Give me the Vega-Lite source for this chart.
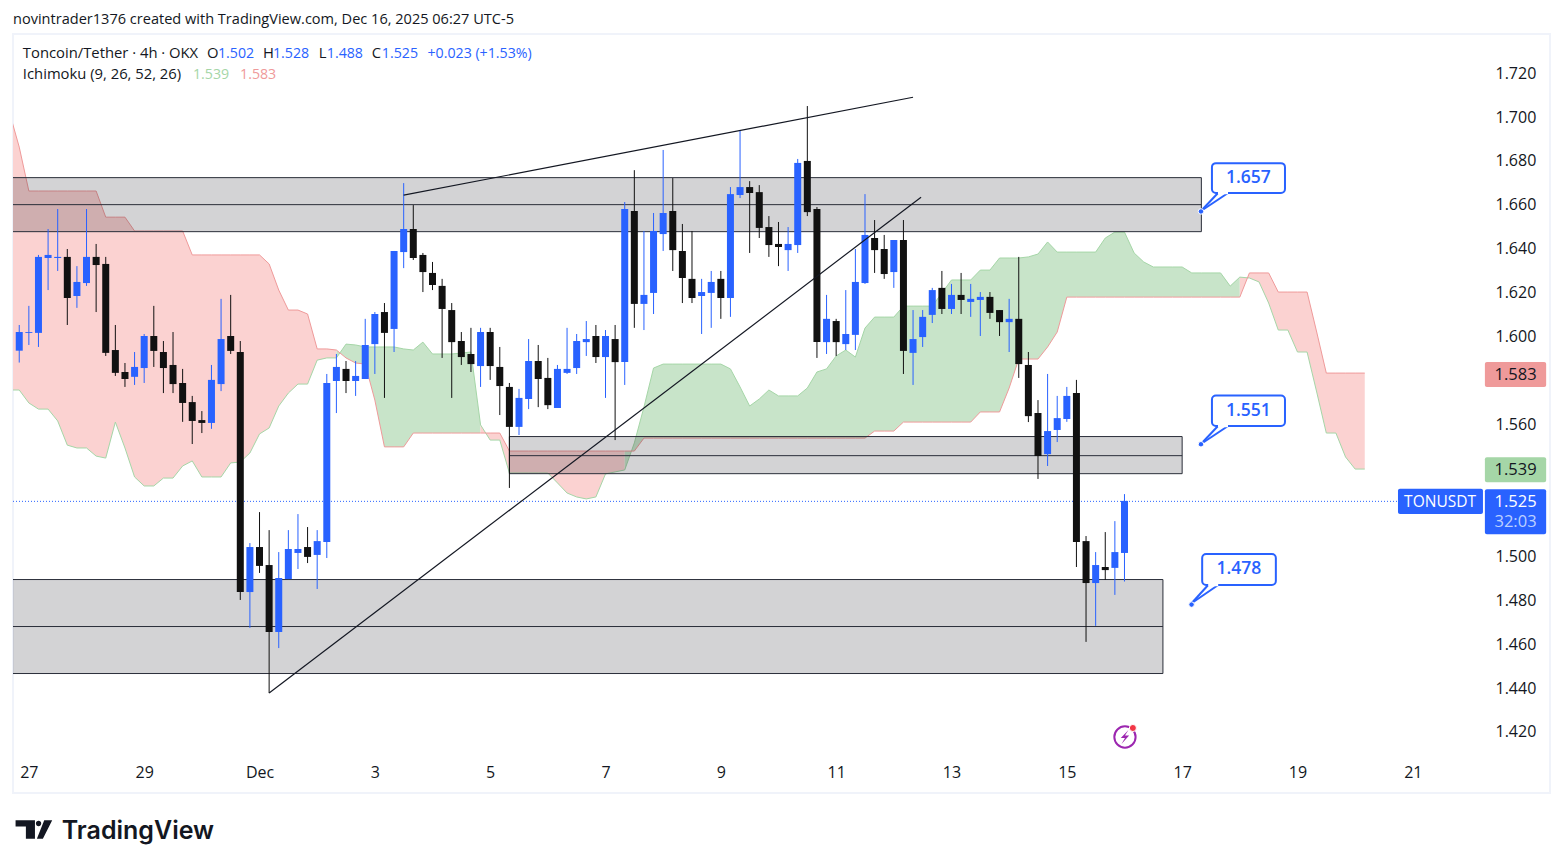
{
  "$schema": "https://vega.github.io/schema/vega-lite/v6.json",
  "width": 1537,
  "height": 759,
  "autosize": "none",
  "padding": {"left": 13, "top": 34, "right": 13, "bottom": 75},
  "background": "white",
  "title": {"text": "novintrader1376 created with TradingView.com, Dec 16, 2025 06:27 UTC-5", "anchor": "start", "frame": "group", "fontSize": 14.55, "fontWeight": "normal", "color": "#131722", "offset": 6},
  "config": {
    "font": "Open Sans",
    "view": {"stroke": "#f0f3fa", "strokeWidth": 2}
  },
  "datasets": {
    "candles": [
      {"t":"2025-11-26T20:00Z","o":1.5936,"h":1.6053,"l":1.5882,"c":1.6021},
      {"t":"2025-11-27T00:00Z","o":1.6017,"h":1.6140,"l":1.5962,"c":1.6021},
      {"t":"2025-11-27T04:00Z","o":1.6017,"h":1.6372,"l":1.5953,"c":1.6363},
      {"t":"2025-11-27T08:00Z","o":1.6358,"h":1.6490,"l":1.6212,"c":1.6372},
      {"t":"2025-11-27T12:00Z","o":1.6358,"h":1.6581,"l":1.6299,"c":1.6363},
      {"t":"2025-11-27T16:00Z","o":1.6363,"h":1.6399,"l":1.6053,"c":1.6176},
      {"t":"2025-11-27T20:00Z","o":1.6185,"h":1.6321,"l":1.6131,"c":1.6249},
      {"t":"2025-11-28T00:00Z","o":1.6244,"h":1.6581,"l":1.6231,"c":1.6363},
      {"t":"2025-11-28T04:00Z","o":1.6363,"h":1.6422,"l":1.6112,"c":1.6326},
      {"t":"2025-11-28T08:00Z","o":1.6331,"h":1.6363,"l":1.5912,"c":1.5926},
      {"t":"2025-11-28T12:00Z","o":1.5939,"h":1.6053,"l":1.5821,"c":1.5835},
      {"t":"2025-11-28T16:00Z","o":1.5839,"h":1.5880,"l":1.5771,"c":1.5807},
      {"t":"2025-11-28T20:00Z","o":1.5817,"h":1.5930,"l":1.5780,"c":1.5862},
      {"t":"2025-11-29T00:00Z","o":1.5857,"h":1.6012,"l":1.5789,"c":1.6003},
      {"t":"2025-11-29T04:00Z","o":1.6003,"h":1.6140,"l":1.5862,"c":1.5935},
      {"t":"2025-11-29T08:00Z","o":1.5930,"h":1.5980,"l":1.5743,"c":1.5857},
      {"t":"2025-11-29T12:00Z","o":1.5871,"h":1.6021,"l":1.5743,"c":1.5784},
      {"t":"2025-11-29T16:00Z","o":1.5789,"h":1.5853,"l":1.5612,"c":1.5698},
      {"t":"2025-11-29T20:00Z","o":1.5702,"h":1.5730,"l":1.5511,"c":1.5616},
      {"t":"2025-11-30T00:00Z","o":1.5620,"h":1.5661,"l":1.5561,"c":1.5607},
      {"t":"2025-11-30T04:00Z","o":1.5607,"h":1.5871,"l":1.5580,"c":1.5803},
      {"t":"2025-11-30T08:00Z","o":1.5784,"h":1.6172,"l":1.5752,"c":1.5989},
      {"t":"2025-11-30T12:00Z","o":1.6003,"h":1.6190,"l":1.5921,"c":1.5935},
      {"t":"2025-11-30T16:00Z","o":1.5930,"h":1.5980,"l":1.4801,"c":1.4837},
      {"t":"2025-11-30T20:00Z","o":1.4837,"h":1.5060,"l":1.4674,"c":1.5042},
      {"t":"2025-12-01T00:00Z","o":1.5042,"h":1.5201,"l":1.4924,"c":1.4956},
      {"t":"2025-12-01T04:00Z","o":1.4960,"h":1.5119,"l":1.4377,"c":1.4655},
      {"t":"2025-12-01T08:00Z","o":1.4655,"h":1.5019,"l":1.4582,"c":1.4901},
      {"t":"2025-12-01T12:00Z","o":1.4896,"h":1.5119,"l":1.4896,"c":1.5033},
      {"t":"2025-12-01T16:00Z","o":1.5015,"h":1.5192,"l":1.4942,"c":1.5033},
      {"t":"2025-12-01T20:00Z","o":1.5042,"h":1.5133,"l":1.4969,"c":1.4997},
      {"t":"2025-12-02T00:00Z","o":1.5006,"h":1.5119,"l":1.4851,"c":1.5069},
      {"t":"2025-12-02T04:00Z","o":1.5065,"h":1.5830,"l":1.4992,"c":1.5789},
      {"t":"2025-12-02T08:00Z","o":1.5798,"h":1.5921,"l":1.5652,"c":1.5862},
      {"t":"2025-12-02T12:00Z","o":1.5853,"h":1.5889,"l":1.5743,"c":1.5798},
      {"t":"2025-12-02T16:00Z","o":1.5798,"h":1.5889,"l":1.5730,"c":1.5821},
      {"t":"2025-12-02T20:00Z","o":1.5807,"h":1.6081,"l":1.5807,"c":1.5962},
      {"t":"2025-12-03T00:00Z","o":1.5966,"h":1.6112,"l":1.5830,"c":1.6103},
      {"t":"2025-12-03T04:00Z","o":1.6112,"h":1.6153,"l":1.5721,"c":1.6017},
      {"t":"2025-12-03T08:00Z","o":1.6035,"h":1.6390,"l":1.5930,"c":1.6390},
      {"t":"2025-12-03T12:00Z","o":1.6385,"h":1.6699,"l":1.6312,"c":1.6490},
      {"t":"2025-12-03T16:00Z","o":1.6490,"h":1.6599,"l":1.6349,"c":1.6358},
      {"t":"2025-12-03T20:00Z","o":1.6372,"h":1.6381,"l":1.6203,"c":1.6294},
      {"t":"2025-12-04T00:00Z","o":1.6290,"h":1.6340,"l":1.6212,"c":1.6235},
      {"t":"2025-12-04T04:00Z","o":1.6231,"h":1.6263,"l":1.5903,"c":1.6126},
      {"t":"2025-12-04T08:00Z","o":1.6121,"h":1.6153,"l":1.5721,"c":1.5975},
      {"t":"2025-12-04T12:00Z","o":1.5980,"h":1.6021,"l":1.5871,"c":1.5907},
      {"t":"2025-12-04T16:00Z","o":1.5921,"h":1.6040,"l":1.5839,"c":1.5875},
      {"t":"2025-12-04T20:00Z","o":1.5866,"h":1.6040,"l":1.5771,"c":1.6021},
      {"t":"2025-12-05T00:00Z","o":1.6021,"h":1.6040,"l":1.5803,"c":1.5866},
      {"t":"2025-12-05T04:00Z","o":1.5862,"h":1.5953,"l":1.5643,"c":1.5775},
      {"t":"2025-12-05T08:00Z","o":1.5771,"h":1.5789,"l":1.5311,"c":1.5589},
      {"t":"2025-12-05T12:00Z","o":1.5589,"h":1.5762,"l":1.5552,"c":1.5721},
      {"t":"2025-12-05T16:00Z","o":1.5716,"h":1.5989,"l":1.5670,"c":1.5889},
      {"t":"2025-12-05T20:00Z","o":1.5889,"h":1.5962,"l":1.5679,"c":1.5807},
      {"t":"2025-12-06T00:00Z","o":1.5812,"h":1.5903,"l":1.5670,"c":1.5688},
      {"t":"2025-12-06T04:00Z","o":1.5675,"h":1.5871,"l":1.5675,"c":1.5853},
      {"t":"2025-12-06T08:00Z","o":1.5835,"h":1.6040,"l":1.5830,"c":1.5853},
      {"t":"2025-12-06T12:00Z","o":1.5857,"h":1.6012,"l":1.5830,"c":1.5980},
      {"t":"2025-12-06T16:00Z","o":1.5975,"h":1.6071,"l":1.5912,"c":1.5989},
      {"t":"2025-12-06T20:00Z","o":1.6003,"h":1.6053,"l":1.5880,"c":1.5907},
      {"t":"2025-12-07T00:00Z","o":1.5907,"h":1.6030,"l":1.5721,"c":1.6003},
      {"t":"2025-12-07T04:00Z","o":1.5989,"h":1.6053,"l":1.5529,"c":1.5884},
      {"t":"2025-12-07T08:00Z","o":1.5884,"h":1.6613,"l":1.5780,"c":1.6581},
      {"t":"2025-12-07T12:00Z","o":1.6572,"h":1.6758,"l":1.6040,"c":1.6149},
      {"t":"2025-12-07T16:00Z","o":1.6149,"h":1.6481,"l":1.6030,"c":1.6190},
      {"t":"2025-12-07T20:00Z","o":1.6199,"h":1.6563,"l":1.6103,"c":1.6481},
      {"t":"2025-12-08T00:00Z","o":1.6467,"h":1.6850,"l":1.6390,"c":1.6563},
      {"t":"2025-12-08T04:00Z","o":1.6572,"h":1.6722,"l":1.6299,"c":1.6394},
      {"t":"2025-12-08T08:00Z","o":1.6390,"h":1.6513,"l":1.6153,"c":1.6267},
      {"t":"2025-12-08T12:00Z","o":1.6263,"h":1.6481,"l":1.6153,"c":1.6176},
      {"t":"2025-12-08T16:00Z","o":1.6185,"h":1.6263,"l":1.6012,"c":1.6203},
      {"t":"2025-12-08T20:00Z","o":1.6199,"h":1.6299,"l":1.6040,"c":1.6249},
      {"t":"2025-12-09T00:00Z","o":1.6263,"h":1.6299,"l":1.6081,"c":1.6176},
      {"t":"2025-12-09T04:00Z","o":1.6176,"h":1.6681,"l":1.6090,"c":1.6649},
      {"t":"2025-12-09T08:00Z","o":1.6645,"h":1.6940,"l":1.6631,"c":1.6681},
      {"t":"2025-12-09T12:00Z","o":1.6681,"h":1.6708,"l":1.6381,"c":1.6654},
      {"t":"2025-12-09T16:00Z","o":1.6658,"h":1.6690,"l":1.6449,"c":1.6495},
      {"t":"2025-12-09T20:00Z","o":1.6499,"h":1.6549,"l":1.6363,"c":1.6417},
      {"t":"2025-12-10T00:00Z","o":1.6422,"h":1.6522,"l":1.6321,"c":1.6408},
      {"t":"2025-12-10T04:00Z","o":1.6394,"h":1.6499,"l":1.6299,"c":1.6422},
      {"t":"2025-12-10T08:00Z","o":1.6417,"h":1.6809,"l":1.6381,"c":1.6791},
      {"t":"2025-12-10T12:00Z","o":1.6800,"h":1.7050,"l":1.6549,"c":1.6567},
      {"t":"2025-12-10T16:00Z","o":1.6581,"h":1.6590,"l":1.5903,"c":1.5975},
      {"t":"2025-12-10T20:00Z","o":1.5975,"h":1.6190,"l":1.5921,"c":1.6081},
      {"t":"2025-12-11T00:00Z","o":1.6071,"h":1.6081,"l":1.5912,"c":1.5975},
      {"t":"2025-12-11T04:00Z","o":1.5966,"h":1.6212,"l":1.5939,"c":1.6012},
      {"t":"2025-12-11T08:00Z","o":1.6008,"h":1.6399,"l":1.5939,"c":1.6249},
      {"t":"2025-12-11T12:00Z","o":1.6244,"h":1.6649,"l":1.6240,"c":1.6463},
      {"t":"2025-12-11T16:00Z","o":1.6449,"h":1.6531,"l":1.6290,"c":1.6394},
      {"t":"2025-12-11T20:00Z","o":1.6399,"h":1.6463,"l":1.6263,"c":1.6285},
      {"t":"2025-12-12T00:00Z","o":1.6294,"h":1.6440,"l":1.6222,"c":1.6440},
      {"t":"2025-12-12T04:00Z","o":1.6440,"h":1.6531,"l":1.5830,"c":1.5935},
      {"t":"2025-12-12T08:00Z","o":1.5926,"h":1.6121,"l":1.5780,"c":1.5989},
      {"t":"2025-12-12T12:00Z","o":1.5998,"h":1.6121,"l":1.5953,"c":1.6090},
      {"t":"2025-12-12T16:00Z","o":1.6099,"h":1.6222,"l":1.6062,"c":1.6212},
      {"t":"2025-12-12T20:00Z","o":1.6222,"h":1.6299,"l":1.6103,"c":1.6126},
      {"t":"2025-12-13T00:00Z","o":1.6126,"h":1.6240,"l":1.6103,"c":1.6190},
      {"t":"2025-12-13T04:00Z","o":1.6190,"h":1.6290,"l":1.6103,"c":1.6167},
      {"t":"2025-12-13T08:00Z","o":1.6158,"h":1.6240,"l":1.6090,"c":1.6172},
      {"t":"2025-12-13T12:00Z","o":1.6167,"h":1.6203,"l":1.6003,"c":1.6181},
      {"t":"2025-12-13T16:00Z","o":1.6181,"h":1.6203,"l":1.6081,"c":1.6108},
      {"t":"2025-12-13T20:00Z","o":1.6121,"h":1.6121,"l":1.6003,"c":1.6066},
      {"t":"2025-12-14T00:00Z","o":1.6066,"h":1.6172,"l":1.5930,"c":1.6081},
      {"t":"2025-12-14T04:00Z","o":1.6081,"h":1.6363,"l":1.5812,"c":1.5875},
      {"t":"2025-12-14T08:00Z","o":1.5871,"h":1.5930,"l":1.5611,"c":1.5638},
      {"t":"2025-12-14T12:00Z","o":1.5652,"h":1.5711,"l":1.5352,"c":1.5456},
      {"t":"2025-12-14T16:00Z","o":1.5465,"h":1.5830,"l":1.5411,"c":1.5570},
      {"t":"2025-12-14T20:00Z","o":1.5575,"h":1.5730,"l":1.5520,"c":1.5629},
      {"t":"2025-12-15T00:00Z","o":1.5625,"h":1.5771,"l":1.5612,"c":1.5730},
      {"t":"2025-12-15T04:00Z","o":1.5743,"h":1.5803,"l":1.4951,"c":1.5065},
      {"t":"2025-12-15T08:00Z","o":1.5069,"h":1.5092,"l":1.4610,"c":1.4878},
      {"t":"2025-12-15T12:00Z","o":1.4878,"h":1.5019,"l":1.4683,"c":1.4960},
      {"t":"2025-12-15T16:00Z","o":1.4951,"h":1.5110,"l":1.4892,"c":1.4937},
      {"t":"2025-12-15T20:00Z","o":1.4947,"h":1.5160,"l":1.4824,"c":1.5019},
      {"t":"2025-12-16T00:00Z","o":1.5015,"h":1.5283,"l":1.4885,"c":1.5252}
    ],
    "cloud": [
      {"seg":1,"side":"bear","t":"2025-11-26T16:00Z","a":1.5757,"b":1.7018},
      {"seg":1,"side":"bear","t":"2025-11-26T20:00Z","a":1.5757,"b":1.6863},
      {"seg":1,"side":"bear","t":"2025-11-27T00:00Z","a":1.5698,"b":1.6663},
      {"seg":1,"side":"bear","t":"2025-11-27T04:00Z","a":1.5670,"b":1.6663},
      {"seg":1,"side":"bear","t":"2025-11-27T08:00Z","a":1.5670,"b":1.6663},
      {"seg":1,"side":"bear","t":"2025-11-27T12:00Z","a":1.5616,"b":1.6663},
      {"seg":1,"side":"bear","t":"2025-11-27T16:00Z","a":1.5506,"b":1.6663},
      {"seg":1,"side":"bear","t":"2025-11-27T20:00Z","a":1.5493,"b":1.6663},
      {"seg":1,"side":"bear","t":"2025-11-28T00:00Z","a":1.5493,"b":1.6663},
      {"seg":1,"side":"bear","t":"2025-11-28T04:00Z","a":1.5456,"b":1.6663},
      {"seg":1,"side":"bear","t":"2025-11-28T08:00Z","a":1.5447,"b":1.6544},
      {"seg":1,"side":"bear","t":"2025-11-28T12:00Z","a":1.5611,"b":1.6544},
      {"seg":1,"side":"bear","t":"2025-11-28T16:00Z","a":1.5493,"b":1.6544},
      {"seg":1,"side":"bear","t":"2025-11-28T20:00Z","a":1.5361,"b":1.6481},
      {"seg":1,"side":"bear","t":"2025-11-29T00:00Z","a":1.5320,"b":1.6481},
      {"seg":1,"side":"bear","t":"2025-11-29T04:00Z","a":1.5320,"b":1.6481},
      {"seg":1,"side":"bear","t":"2025-11-29T08:00Z","a":1.5356,"b":1.6481},
      {"seg":1,"side":"bear","t":"2025-11-29T12:00Z","a":1.5356,"b":1.6481},
      {"seg":1,"side":"bear","t":"2025-11-29T16:00Z","a":1.5411,"b":1.6481},
      {"seg":1,"side":"bear","t":"2025-11-29T20:00Z","a":1.5434,"b":1.6372},
      {"seg":1,"side":"bear","t":"2025-11-30T00:00Z","a":1.5361,"b":1.6372},
      {"seg":1,"side":"bear","t":"2025-11-30T04:00Z","a":1.5361,"b":1.6372},
      {"seg":1,"side":"bear","t":"2025-11-30T08:00Z","a":1.5361,"b":1.6372},
      {"seg":1,"side":"bear","t":"2025-11-30T12:00Z","a":1.5425,"b":1.6372},
      {"seg":1,"side":"bear","t":"2025-11-30T16:00Z","a":1.5429,"b":1.6372},
      {"seg":1,"side":"bear","t":"2025-11-30T20:00Z","a":1.5470,"b":1.6372},
      {"seg":1,"side":"bear","t":"2025-12-01T00:00Z","a":1.5557,"b":1.6372},
      {"seg":1,"side":"bear","t":"2025-12-01T04:00Z","a":1.5584,"b":1.6331},
      {"seg":1,"side":"bear","t":"2025-12-01T08:00Z","a":1.5684,"b":1.6212},
      {"seg":1,"side":"bear","t":"2025-12-01T12:00Z","a":1.5743,"b":1.6121},
      {"seg":1,"side":"bear","t":"2025-12-01T16:00Z","a":1.5784,"b":1.6121},
      {"seg":1,"side":"bear","t":"2025-12-01T20:00Z","a":1.5784,"b":1.6103},
      {"seg":1,"side":"bear","t":"2025-12-02T00:00Z","a":1.5893,"b":1.5944},
      {"seg":1,"side":"bear","t":"2025-12-02T04:00Z","a":1.5903,"b":1.5944},
      {"seg":1,"side":"bear","t":"2025-12-02T08:00Z","a":1.5903,"b":1.5939},
      {"seg":2,"side":"bull","t":"2025-12-02T08:00Z","a":1.5903,"b":1.5939},
      {"seg":2,"side":"bull","t":"2025-12-02T12:00Z","a":1.5966,"b":1.5903},
      {"seg":2,"side":"bull","t":"2025-12-02T16:00Z","a":1.5962,"b":1.5880},
      {"seg":2,"side":"bull","t":"2025-12-02T20:00Z","a":1.5953,"b":1.5875},
      {"seg":2,"side":"bull","t":"2025-12-03T00:00Z","a":1.5953,"b":1.5711},
      {"seg":2,"side":"bull","t":"2025-12-03T04:00Z","a":1.5953,"b":1.5498},
      {"seg":2,"side":"bull","t":"2025-12-03T08:00Z","a":1.5953,"b":1.5498},
      {"seg":2,"side":"bull","t":"2025-12-03T12:00Z","a":1.5944,"b":1.5498},
      {"seg":2,"side":"bull","t":"2025-12-03T16:00Z","a":1.5939,"b":1.5561},
      {"seg":2,"side":"bull","t":"2025-12-03T20:00Z","a":1.5975,"b":1.5561},
      {"seg":2,"side":"bull","t":"2025-12-04T00:00Z","a":1.5921,"b":1.5561},
      {"seg":2,"side":"bull","t":"2025-12-04T04:00Z","a":1.5921,"b":1.5561},
      {"seg":2,"side":"bull","t":"2025-12-04T08:00Z","a":1.5921,"b":1.5561},
      {"seg":2,"side":"bull","t":"2025-12-04T12:00Z","a":1.5925,"b":1.5561},
      {"seg":2,"side":"bull","t":"2025-12-04T16:00Z","a":1.5930,"b":1.5561},
      {"seg":2,"side":"bull","t":"2025-12-04T20:00Z","a":1.5598,"b":1.5561},
      {"seg":3,"side":"bear","t":"2025-12-04T20:00Z","a":1.5598,"b":1.5561},
      {"seg":3,"side":"bear","t":"2025-12-05T00:00Z","a":1.5529,"b":1.5561},
      {"seg":3,"side":"bear","t":"2025-12-05T04:00Z","a":1.5529,"b":1.5561},
      {"seg":3,"side":"bear","t":"2025-12-05T08:00Z","a":1.5379,"b":1.5479},
      {"seg":3,"side":"bear","t":"2025-12-05T12:00Z","a":1.5379,"b":1.5479},
      {"seg":3,"side":"bear","t":"2025-12-05T16:00Z","a":1.5379,"b":1.5479},
      {"seg":3,"side":"bear","t":"2025-12-05T20:00Z","a":1.5379,"b":1.5479},
      {"seg":3,"side":"bear","t":"2025-12-06T00:00Z","a":1.5379,"b":1.5479},
      {"seg":3,"side":"bear","t":"2025-12-06T04:00Z","a":1.5334,"b":1.5479},
      {"seg":3,"side":"bear","t":"2025-12-06T08:00Z","a":1.5288,"b":1.5479},
      {"seg":3,"side":"bear","t":"2025-12-06T12:00Z","a":1.5270,"b":1.5479},
      {"seg":3,"side":"bear","t":"2025-12-06T16:00Z","a":1.5261,"b":1.5479},
      {"seg":3,"side":"bear","t":"2025-12-06T20:00Z","a":1.5270,"b":1.5479},
      {"seg":3,"side":"bear","t":"2025-12-07T00:00Z","a":1.5375,"b":1.5479},
      {"seg":3,"side":"bear","t":"2025-12-07T04:00Z","a":1.5384,"b":1.5479},
      {"seg":3,"side":"bear","t":"2025-12-07T08:00Z","a":1.5393,"b":1.5479},
      {"seg":4,"side":"bull","t":"2025-12-07T08:00Z","a":1.5393,"b":1.5479},
      {"seg":4,"side":"bull","t":"2025-12-07T12:00Z","a":1.5516,"b":1.5479},
      {"seg":4,"side":"bull","t":"2025-12-07T16:00Z","a":1.5679,"b":1.5538},
      {"seg":4,"side":"bull","t":"2025-12-07T20:00Z","a":1.5857,"b":1.5538},
      {"seg":4,"side":"bull","t":"2025-12-08T00:00Z","a":1.5875,"b":1.5538},
      {"seg":4,"side":"bull","t":"2025-12-08T04:00Z","a":1.5875,"b":1.5538},
      {"seg":4,"side":"bull","t":"2025-12-08T08:00Z","a":1.5875,"b":1.5538},
      {"seg":4,"side":"bull","t":"2025-12-08T12:00Z","a":1.5875,"b":1.5538},
      {"seg":4,"side":"bull","t":"2025-12-08T16:00Z","a":1.5875,"b":1.5538},
      {"seg":4,"side":"bull","t":"2025-12-08T20:00Z","a":1.5875,"b":1.5538},
      {"seg":4,"side":"bull","t":"2025-12-09T00:00Z","a":1.5875,"b":1.5538},
      {"seg":4,"side":"bull","t":"2025-12-09T04:00Z","a":1.5853,"b":1.5538},
      {"seg":4,"side":"bull","t":"2025-12-09T08:00Z","a":1.5771,"b":1.5538},
      {"seg":4,"side":"bull","t":"2025-12-09T12:00Z","a":1.5684,"b":1.5538},
      {"seg":4,"side":"bull","t":"2025-12-09T16:00Z","a":1.5716,"b":1.5538},
      {"seg":4,"side":"bull","t":"2025-12-09T20:00Z","a":1.5757,"b":1.5538},
      {"seg":4,"side":"bull","t":"2025-12-10T00:00Z","a":1.5730,"b":1.5538},
      {"seg":4,"side":"bull","t":"2025-12-10T04:00Z","a":1.5730,"b":1.5538},
      {"seg":4,"side":"bull","t":"2025-12-10T08:00Z","a":1.5730,"b":1.5538},
      {"seg":4,"side":"bull","t":"2025-12-10T12:00Z","a":1.5766,"b":1.5538},
      {"seg":4,"side":"bull","t":"2025-12-10T16:00Z","a":1.5839,"b":1.5538},
      {"seg":4,"side":"bull","t":"2025-12-10T20:00Z","a":1.5853,"b":1.5538},
      {"seg":4,"side":"bull","t":"2025-12-11T00:00Z","a":1.5912,"b":1.5538},
      {"seg":4,"side":"bull","t":"2025-12-11T04:00Z","a":1.5939,"b":1.5538},
      {"seg":4,"side":"bull","t":"2025-12-11T08:00Z","a":1.5907,"b":1.5538},
      {"seg":4,"side":"bull","t":"2025-12-11T12:00Z","a":1.6039,"b":1.5538},
      {"seg":4,"side":"bull","t":"2025-12-11T16:00Z","a":1.6089,"b":1.5570},
      {"seg":4,"side":"bull","t":"2025-12-11T20:00Z","a":1.6089,"b":1.5570},
      {"seg":4,"side":"bull","t":"2025-12-12T00:00Z","a":1.6089,"b":1.5570},
      {"seg":4,"side":"bull","t":"2025-12-12T04:00Z","a":1.6139,"b":1.5611},
      {"seg":4,"side":"bull","t":"2025-12-12T08:00Z","a":1.6139,"b":1.5611},
      {"seg":4,"side":"bull","t":"2025-12-12T12:00Z","a":1.6139,"b":1.5611},
      {"seg":4,"side":"bull","t":"2025-12-12T16:00Z","a":1.6139,"b":1.5611},
      {"seg":4,"side":"bull","t":"2025-12-12T20:00Z","a":1.6199,"b":1.5611},
      {"seg":4,"side":"bull","t":"2025-12-13T00:00Z","a":1.6258,"b":1.5611},
      {"seg":4,"side":"bull","t":"2025-12-13T04:00Z","a":1.6258,"b":1.5611},
      {"seg":4,"side":"bull","t":"2025-12-13T08:00Z","a":1.6258,"b":1.5611},
      {"seg":4,"side":"bull","t":"2025-12-13T12:00Z","a":1.6303,"b":1.5657},
      {"seg":4,"side":"bull","t":"2025-12-13T16:00Z","a":1.6303,"b":1.5657},
      {"seg":4,"side":"bull","t":"2025-12-13T20:00Z","a":1.6358,"b":1.5657},
      {"seg":4,"side":"bull","t":"2025-12-14T00:00Z","a":1.6358,"b":1.5766},
      {"seg":4,"side":"bull","t":"2025-12-14T04:00Z","a":1.6358,"b":1.5898},
      {"seg":4,"side":"bull","t":"2025-12-14T08:00Z","a":1.6363,"b":1.5898},
      {"seg":4,"side":"bull","t":"2025-12-14T12:00Z","a":1.6376,"b":1.5898},
      {"seg":4,"side":"bull","t":"2025-12-14T16:00Z","a":1.6431,"b":1.5953},
      {"seg":4,"side":"bull","t":"2025-12-14T20:00Z","a":1.6385,"b":1.6021},
      {"seg":4,"side":"bull","t":"2025-12-15T00:00Z","a":1.6385,"b":1.6180},
      {"seg":4,"side":"bull","t":"2025-12-15T04:00Z","a":1.6385,"b":1.6180},
      {"seg":4,"side":"bull","t":"2025-12-15T08:00Z","a":1.6385,"b":1.6180},
      {"seg":4,"side":"bull","t":"2025-12-15T12:00Z","a":1.6385,"b":1.6180},
      {"seg":4,"side":"bull","t":"2025-12-15T16:00Z","a":1.6449,"b":1.6180},
      {"seg":4,"side":"bull","t":"2025-12-15T20:00Z","a":1.6476,"b":1.6180},
      {"seg":4,"side":"bull","t":"2025-12-16T00:00Z","a":1.6476,"b":1.6180},
      {"seg":4,"side":"bull","t":"2025-12-16T04:00Z","a":1.6381,"b":1.6180},
      {"seg":4,"side":"bull","t":"2025-12-16T08:00Z","a":1.6340,"b":1.6180},
      {"seg":4,"side":"bull","t":"2025-12-16T12:00Z","a":1.6317,"b":1.6180},
      {"seg":4,"side":"bull","t":"2025-12-16T16:00Z","a":1.6317,"b":1.6180},
      {"seg":4,"side":"bull","t":"2025-12-16T20:00Z","a":1.6317,"b":1.6180},
      {"seg":4,"side":"bull","t":"2025-12-17T00:00Z","a":1.6317,"b":1.6180},
      {"seg":4,"side":"bull","t":"2025-12-17T04:00Z","a":1.6290,"b":1.6180},
      {"seg":4,"side":"bull","t":"2025-12-17T08:00Z","a":1.6290,"b":1.6180},
      {"seg":4,"side":"bull","t":"2025-12-17T12:00Z","a":1.6290,"b":1.6180},
      {"seg":4,"side":"bull","t":"2025-12-17T16:00Z","a":1.6290,"b":1.6180},
      {"seg":4,"side":"bull","t":"2025-12-17T20:00Z","a":1.6230,"b":1.6180},
      {"seg":4,"side":"bull","t":"2025-12-18T00:00Z","a":1.6271,"b":1.6180},
      {"seg":5,"side":"bear","t":"2025-12-18T00:00Z","a":1.6271,"b":1.6180},
      {"seg":5,"side":"bear","t":"2025-12-18T04:00Z","a":1.6267,"b":1.6290},
      {"seg":5,"side":"bear","t":"2025-12-18T08:00Z","a":1.6249,"b":1.6290},
      {"seg":5,"side":"bear","t":"2025-12-18T12:00Z","a":1.6153,"b":1.6290},
      {"seg":5,"side":"bear","t":"2025-12-18T16:00Z","a":1.6030,"b":1.6203},
      {"seg":5,"side":"bear","t":"2025-12-18T20:00Z","a":1.6030,"b":1.6203},
      {"seg":5,"side":"bear","t":"2025-12-19T00:00Z","a":1.5930,"b":1.6203},
      {"seg":5,"side":"bear","t":"2025-12-19T04:00Z","a":1.5930,"b":1.6203},
      {"seg":5,"side":"bear","t":"2025-12-19T08:00Z","a":1.5748,"b":1.6021},
      {"seg":5,"side":"bear","t":"2025-12-19T12:00Z","a":1.5561,"b":1.5834},
      {"seg":5,"side":"bear","t":"2025-12-19T16:00Z","a":1.5561,"b":1.5834},
      {"seg":5,"side":"bear","t":"2025-12-19T20:00Z","a":1.5452,"b":1.5834},
      {"seg":5,"side":"bear","t":"2025-12-20T00:00Z","a":1.5397,"b":1.5834},
      {"seg":5,"side":"bear","t":"2025-12-20T04:00Z","a":1.5397,"b":1.5834}
    ],
    "zones": [
      {"t":"2025-11-26T00:00Z","t1":"2025-12-17T08:00Z","p":1.6724,"p2":1.6478},
      {"t":"2025-12-05T08:00Z","t1":"2025-12-17T00:00Z","p":1.5545,"p2":1.5376},
      {"t":"2025-11-26T00:00Z","t1":"2025-12-16T16:00Z","p":1.4894,"p2":1.4466}
    ],
    "zoneLines": [
      {"t":"2025-11-26T00:00Z","t1":"2025-12-17T08:00Z","p":1.6724},
      {"t":"2025-11-26T00:00Z","t1":"2025-12-17T08:00Z","p":1.6601},
      {"t":"2025-11-26T00:00Z","t1":"2025-12-17T08:00Z","p":1.6478},
      {"t":"2025-12-05T08:00Z","t1":"2025-12-17T00:00Z","p":1.5545},
      {"t":"2025-12-05T08:00Z","t1":"2025-12-17T00:00Z","p":1.5458},
      {"t":"2025-12-05T08:00Z","t1":"2025-12-17T00:00Z","p":1.5376},
      {"t":"2025-11-26T00:00Z","t1":"2025-12-16T16:00Z","p":1.4894},
      {"t":"2025-11-26T00:00Z","t1":"2025-12-16T16:00Z","p":1.4680},
      {"t":"2025-11-26T00:00Z","t1":"2025-12-16T16:00Z","p":1.4466}
    ],
    "zoneEdges": [
      {"t":"2025-12-17T08:00Z","p":1.6724,"p2":1.6478},
      {"t":"2025-12-05T08:00Z","p":1.5545,"p2":1.5376},
      {"t":"2025-12-17T00:00Z","p":1.5545,"p2":1.5376},
      {"t":"2025-12-16T16:00Z","p":1.4894,"p2":1.4466}
    ],
    "trendlines": [
      {"t":"2025-12-03T12:00Z","t1":"2025-12-12T08:00Z","p":1.6644,"p2":1.7090},
      {"t":"2025-12-01T04:00Z","t1":"2025-12-12T11:20Z","p":1.4377,"p2":1.6635}
    ],
    "lastPrice": [
      {"t":"2025-11-26T17:24Z","t1":"2025-12-20T17:50Z","p":1.525}
    ],
    "tags": [
      {"kind":"lead2","t":"2025-12-22T06:00Z","t1":"2025-12-23T07:30Z","p":1.5884,"p2":1.5771},
      {"kind":"lead1","t":"2025-12-22T06:00Z","t1":"2025-12-23T07:30Z","p":1.5451,"p2":1.5337},
      {"kind":"last","t":"2025-12-22T06:00Z","t1":"2025-12-23T07:30Z","p":1.5305,"p2":1.5100},
      {"kind":"last","t":"2025-12-20T17:50Z","t1":"2025-12-22T05:12Z","p":1.5307,"p2":1.5192}
    ],
    "tagText": [
      {"kind":"ink","t":"2025-12-22T18:45Z","p":1.5825,"text":"1.583"},
      {"kind":"ink","t":"2025-12-22T18:45Z","p":1.5393,"text":"1.539"},
      {"kind":"white","t":"2025-12-22T18:45Z","p":1.5247,"text":"1.525"},
      {"kind":"timer","t":"2025-12-22T18:45Z","p":1.5156,"text":"32:03"},
      {"kind":"white","t":"2025-12-21T11:20Z","p":1.5247,"text":"TONUSDT"}
    ],
    "calloutBoxes": [
      {"t":"2025-12-17T12:24Z","t1":"2025-12-18T18:48Z","p":1.6790,"p2":1.6654},
      {"t":"2025-12-17T12:24Z","t1":"2025-12-18T18:48Z","p":1.5732,"p2":1.5593},
      {"t":"2025-12-17T08:20Z","t1":"2025-12-18T15:00Z","p":1.5010,"p2":1.4869}
    ],
    "calloutTails": [
      {"t":"2025-12-17T07:50Z","t1":"2025-12-17T14:55Z","p":1.6572,"p2":1.6654},
      {"t":"2025-12-17T07:50Z","t1":"2025-12-17T19:05Z","p":1.6572,"p2":1.6654},
      {"t":"2025-12-17T07:50Z","t1":"2025-12-17T14:55Z","p":1.5511,"p2":1.5593},
      {"t":"2025-12-17T07:50Z","t1":"2025-12-17T19:05Z","p":1.5511,"p2":1.5593},
      {"t":"2025-12-17T03:55Z","t1":"2025-12-17T10:50Z","p":1.4786,"p2":1.4869},
      {"t":"2025-12-17T03:55Z","t1":"2025-12-17T15:00Z","p":1.4786,"p2":1.4869}
    ],
    "calloutGaps": [
      {"t":"2025-12-17T14:55Z","t1":"2025-12-17T19:05Z","p":1.6654},
      {"t":"2025-12-17T14:55Z","t1":"2025-12-17T19:05Z","p":1.5593},
      {"t":"2025-12-17T10:50Z","t1":"2025-12-17T15:00Z","p":1.4869}
    ],
    "calloutTips": [
      {"t":"2025-12-17T07:50Z","p":1.657},
      {"t":"2025-12-17T07:50Z","p":1.551},
      {"t":"2025-12-17T03:55Z","p":1.478}
    ],
    "calloutText": [
      {"t":"2025-12-18T03:36Z","p":1.6722,"text":"1.657"},
      {"t":"2025-12-18T03:36Z","p":1.5663,"text":"1.551"},
      {"t":"2025-12-17T23:36Z","p":1.4940,"text":"1.478"}
    ],
    "status": [
      {"kind":"ink","t":"2025-11-26T21:30Z","p":1.7287,"text":"Toncoin/Tether · 4h · OKX"},
      {"kind":"ink","t":"2025-11-30T02:06Z","p":1.7287,"text":"O"},
      {"kind":"up","t":"2025-11-30T06:42Z","p":1.7287,"text":"1.502"},
      {"kind":"ink","t":"2025-12-01T01:24Z","p":1.7287,"text":"H"},
      {"kind":"up","t":"2025-12-01T05:36Z","p":1.7287,"text":"1.528"},
      {"kind":"ink","t":"2025-12-02T00:42Z","p":1.7287,"text":"L"},
      {"kind":"up","t":"2025-12-02T04:00Z","p":1.7287,"text":"1.488"},
      {"kind":"ink","t":"2025-12-02T22:42Z","p":1.7287,"text":"C"},
      {"kind":"up","t":"2025-12-03T02:54Z","p":1.7287,"text":"1.525"},
      {"kind":"up","t":"2025-12-03T21:54Z","p":1.7287,"text":"+0.023 (+1.53%)"},
      {"kind":"ink","t":"2025-11-26T21:30Z","p":1.7191,"text":"Ichimoku (9, 26, 52, 26)"},
      {"kind":"lead1","t":"2025-11-29T20:18Z","p":1.7191,"text":"1.539"},
      {"kind":"lead2","t":"2025-11-30T15:54Z","p":1.7191,"text":"1.583"}
    ],
    "brandName": [{"t":"2025-11-27T13:42Z","p":1.3749,"text":"TradingView"}],
    "brandMark": [{"t":"2025-11-27T02:18Z","p":1.3752}],
    "flash": [{"t":"2025-12-16T00:12Z","p":1.4177}],
    "flashDot": [{"t":"2025-12-16T03:30Z","p":1.4218}]
  },
  "encoding": {
    "x": {
      "field": "t",
      "type": "temporal",
      "title": null,
      "scale": {"type": "utc", "nice": false, "padding": 0, "domain": ["2025-11-26T17:24:00Z", "2025-12-23T09:06:00Z"]},
      "axis": {
        "values": ["2025-11-27T00:00:00Z", "2025-11-29T00:00:00Z", "2025-12-01T00:00:00Z", "2025-12-03T00:00:00Z", "2025-12-05T00:00:00Z", "2025-12-07T00:00:00Z", "2025-12-09T00:00:00Z", "2025-12-11T00:00:00Z", "2025-12-13T00:00:00Z", "2025-12-15T00:00:00Z", "2025-12-17T00:00:00Z", "2025-12-19T00:00:00Z", "2025-12-21T00:00:00Z"],
        "labelExpr": "utcdate(datum.value) === 1 ? 'Dec' : utcdate(datum.value)",
        "labelFontWeight": {"condition": {"test": "utcdate(datum.value) === 1", "value": 500}, "value": 400},
        "grid": false, "domain": false, "ticks": false,
        "labelPadding": -29, "labelFontSize": 16, "labelColor": "#131722", "labelFlush": false, "labelOverlap": false
      }
    },
    "y": {
      "field": "p",
      "type": "quantitative",
      "title": null,
      "scale": {"domain": [1.3922, 1.7378]},
      "axis": {
        "orient": "right",
        "values": [1.42, 1.44, 1.46, 1.48, 1.5, 1.56, 1.6, 1.62, 1.64, 1.66, 1.68, 1.7, 1.72],
        "format": ".3f",
        "grid": false, "domain": false, "ticks": false,
        "labelPadding": -55, "labelFontSize": 16, "labelColor": "#131722", "labelOverlap": false
      }
    }
  },
  "layer": [
    {
      "data": {"name": "cloud"},
      "mark": {"type": "area", "clip": true},
      "encoding": {
        "y": {"field": "a", "type": "quantitative", "scale": {"domain": [1.3922, 1.7378]}, "axis": {"title": null, "orient": "right"}},
        "y2": {"field": "b"},
        "detail": {"field": "seg"},
        "color": {"field": "side", "type": "nominal", "legend": null, "scale": {"domain": ["bear", "bull"], "range": ["#fbd2d1", "#c8e4c9"]}}
      }
    },
    {
      "data": {"name": "cloud"},
      "mark": {"type": "line", "clip": true, "strokeWidth": 1, "color": "#a5d6a7"},
      "encoding": {"y": {"field": "a", "type": "quantitative", "scale": {"domain": [1.3922, 1.7378]}, "axis": {"title": null, "orient": "right"}}}
    },
    {
      "data": {"name": "cloud"},
      "mark": {"type": "line", "clip": true, "strokeWidth": 1, "color": "#ef9a9a"},
      "encoding": {"y": {"field": "b", "type": "quantitative", "scale": {"domain": [1.3922, 1.7378]}, "axis": {"title": null, "orient": "right"}}}
    },
    {
      "data": {"name": "zones"},
      "mark": {"type": "rect", "clip": true, "color": "#131722", "opacity": 0.19},
      "encoding": {"x2": {"field": "t1"}, "y2": {"field": "p2"}}
    },
    {
      "data": {"name": "zoneLines"},
      "mark": {"type": "rule", "clip": true, "color": "#2a2e39", "strokeWidth": 1},
      "encoding": {"x2": {"field": "t1"}}
    },
    {
      "data": {"name": "zoneEdges"},
      "mark": {"type": "rule", "clip": true, "color": "#2a2e39", "strokeWidth": 1},
      "encoding": {"y2": {"field": "p2"}}
    },
    {
      "data": {"name": "lastPrice"},
      "mark": {"type": "rule", "color": "#2962ff", "strokeWidth": 1, "strokeDash": [1, 2]},
      "encoding": {"x2": {"field": "t1"}}
    },
    {
      "data": {"name": "candles"},
      "mark": {"type": "rule", "strokeWidth": 1},
      "encoding": {
        "y": {"field": "l", "type": "quantitative", "scale": {"domain": [1.3922, 1.7378]}, "axis": {"title": null, "orient": "right"}},
        "y2": {"field": "h"},
        "color": {"condition": {"test": "datum.c >= datum.o", "value": "#2962ff"}, "value": "#111111"}
      }
    },
    {
      "data": {"name": "candles"},
      "mark": {"type": "bar", "size": 7},
      "encoding": {
        "y": {"field": "o", "type": "quantitative", "scale": {"domain": [1.3922, 1.7378]}, "axis": {"title": null, "orient": "right"}},
        "y2": {"field": "c"},
        "color": {"condition": {"test": "datum.c >= datum.o", "value": "#2962ff"}, "value": "#111111"}
      }
    },
    {
      "data": {"name": "trendlines"},
      "mark": {"type": "rule", "color": "#131722", "strokeWidth": 1.2},
      "encoding": {"x2": {"field": "t1"}, "y2": {"field": "p2"}}
    },
    {
      "data": {"name": "calloutBoxes"},
      "mark": {"type": "rect", "fill": "white", "stroke": "#2962ff", "strokeWidth": 2, "cornerRadius": 4},
      "encoding": {"x2": {"field": "t1"}, "y2": {"field": "p2"}}
    },
    {
      "data": {"name": "calloutTails"},
      "mark": {"type": "rule", "color": "#2962ff", "strokeWidth": 2},
      "encoding": {"x2": {"field": "t1"}, "y2": {"field": "p2"}}
    },
    {
      "data": {"name": "calloutGaps"},
      "mark": {"type": "rule", "color": "white", "strokeWidth": 2.5},
      "encoding": {"x2": {"field": "t1"}}
    },
    {
      "data": {"name": "calloutTips"},
      "mark": {"type": "point", "filled": true, "fill": "#2962ff", "stroke": "white", "strokeWidth": 1, "opacity": 1, "size": 30}
    },
    {
      "data": {"name": "calloutText"},
      "mark": {"type": "text", "color": "#2962ff", "fontSize": 17.5, "fontWeight": 600, "align": "center", "baseline": "middle"},
      "encoding": {"text": {"field": "text"}}
    },
    {
      "data": {"name": "tags"},
      "mark": {"type": "rect", "cornerRadius": 2},
      "encoding": {
        "x2": {"field": "t1"},
        "y2": {"field": "p2"},
        "color": {"field": "kind", "type": "nominal", "legend": null, "scale": {"domain": ["lead2", "lead1", "last"], "range": ["#ef9a9a", "#a5d6a7", "#2962ff"]}}
      }
    },
    {
      "data": {"name": "tagText"},
      "mark": {"type": "text", "fontWeight": 500, "align": "center", "baseline": "middle"},
      "encoding": {
        "text": {"field": "text"},
        "size": {"condition": {"test": "datum.text === 'TONUSDT'", "value": 15.5}, "value": 16.5},
        "color": {"field": "kind", "type": "nominal", "legend": null, "scale": {"domain": ["ink", "white", "timer"], "range": ["#131722", "#ffffff", "#bcd0ff"]}}
      }
    },
    {
      "data": {"name": "status"},
      "mark": {"type": "text", "align": "left", "baseline": "middle"},
      "encoding": {
        "text": {"field": "text"},
        "size": {"condition": {"test": "datum.kind === 'ink'", "value": 14.8}, "value": 14.2},
        "color": {"field": "kind", "type": "nominal", "legend": null, "scale": {"domain": ["ink", "up", "lead1", "lead2"], "range": ["#131722", "#2962ff", "#a5d6a7", "#ef9a9a"]}}
      }
    },
    {
      "data": {"name": "flash"},
      "mark": {"type": "point", "shape": "circle", "filled": false, "stroke": "#9c27b0", "strokeWidth": 2, "opacity": 1, "size": 452}
    },
    {
      "data": {"name": "flash"},
      "mark": {"type": "point", "shape": "M0.5 -1L-0.6 0.15L0 0.15L-0.5 1L0.6 -0.2L0 -0.2Z", "filled": true, "fill": "#9c27b0", "opacity": 1, "size": 196}
    },
    {
      "data": {"name": "flashDot"},
      "mark": {"type": "point", "shape": "circle", "filled": true, "fill": "#f23645", "stroke": "white", "strokeWidth": 1, "opacity": 1, "size": 50}
    },
    {
      "data": {"name": "brandMark"},
      "mark": {"type": "point", "shape": "M-0.99 -0.535L0.03 -0.535L0.03 0.447L-0.447 0.447L-0.447 -0.2L-0.99 -0.2Z M0.08 -0.36A0.14 0.14 0 1 0 0.36 -0.36A0.14 0.14 0 1 0 0.08 -0.36Z M0.518 -0.535L0.938 -0.535L0.447 0.447L0.132 0.447Z", "filled": true, "fill": "#131722", "opacity": 1, "size": 1444}
    },
    {
      "data": {"name": "brandName"},
      "mark": {"type": "text", "font": "Inter", "fontSize": 25, "fontWeight": 600, "color": "#131722", "align": "left", "baseline": "middle"},
      "encoding": {"text": {"field": "text"}}
    }
  ],
  "resolve": {"scale": {"color": "independent"}}
}
